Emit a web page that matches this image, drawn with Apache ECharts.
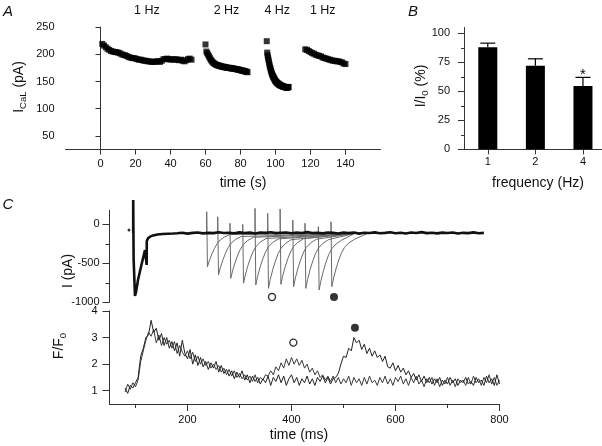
<!DOCTYPE html>
<html><head><meta charset="utf-8">
<script src="https://cdn.jsdelivr.net/npm/echarts@6/dist/echarts.min.js"></script>
<style>html,body{margin:0;padding:0;background:#fff}#c{width:602px;height:446px}</style>
</head><body><div id="c"></div>
<script>
// ---------- Panel A: I_CaL vs time (one point per stimulus) ----------
const segLabels = ['1 Hz', '2 Hz', '4 Hz', '1 Hz'];
const segStartS = [1, 60, 95, 117];
const segPeriodS = [1, 0.5, 0.25, 1];
const seg1Vals = [219,216,213,210,208,206,205,204,204,203, 202,200,199,198,197,195,194,193,193,192,
  191,190,190,189,188,188,187,187,186,186, 186,187,187,186,188,191,191,192,191,190,
  191,190,191,190,189,190,188,187,189,191, 192,190];
const seg2Vals = [218,205,202,199,196,193,190,188,186,184, 183,182,181,180,180,179,179,178,178,177,
  177,177,176,176,176,175,175,175,175,174, 174,174,174,173,173,173,172,172,172,171,
  171,170,170,170,169,169,168,168,167];
const seg3Vals = [224,203,198,194,190,186,182,178,175,172, 169,166,164,162,160,158,157,155,154,152,
  151,150,149,148,147,147,146,145,145,144, 144,143,143,142,142,142,141,141,141,140,
  140,140,140,139,139,139,139,139,140,139, 140];
const seg4Vals = [209,208,206,204,202,201,199,198,197,196,194,193,192,191,190,189,188,188,187,187,186,185,183,182];
const aXTicks = [0,20,40,60,80,100,120,140];
const aYTicks = [50,100,150,200,250];

// ---------- Panel B: I/I0 by frequency ----------
const freqLabels = ['1', '2', '4'];
const meanPct = [88, 72, 54.5];
const semPct = [3.5, 6, 7.5];
const sigMark = ['', '', '*'];
const bYTicks = [0,25,50,75,100];
const bYMinor = [12.5,37.5,62.5,87.5];

// ---------- Panel C top: current traces ----------
const firstSweep = [[95.6,-110],[95.6,312],[96.4,-450],[99,-919],[101,-870],[104.8,-714],[110.6,-544],
  [115,-420],[118.3,-330],[121.3,-330],[121.5,-520],[121.7,-215],[124,-180],[128,-158],[134,-142],
  [142,-130],[152,-124],[162,-120],[172,-118]];
const baseStartMs = 180, baseStepMs = 10;
const baselinePA = [-115,-108,-119,-110,-104,-116,-109,-113,-102,-111,
  -107,-114,-103,-112,-106,-118,-105,-110,-101,-113,
  -108,-104,-115,-106,-111,-100,-112,-107,-116,-105,
  -110,-117,-106,-113,-104,-119,-108,-111,-103,-115,
  -109,-102,-114,-107,-118,-105,-112,-100,-113,-108,
  -116,-106,-111,-104,-117,-109,-113,-103,-115,-110];
const strayDot = [[87.5,-73]];
const pulseTimes = [236.9,258.1,281.7,306.2,329.8,354.2,378.1,402.5,426.0,451.6,476.0];
const pulseTops = [161,97,13,0,205,141,196,55,13,-30,33];
const pulseMins = [-543,-650,-692,-756,-778,-821,-769,-800,-821,-842,-800];
const recoveryMs = [1.5,5,10,15,20,26,34,45];
const recoveryFrac = [1,0.86,0.7,0.57,0.46,0.37,0.3,0.24];
const cTopMarks = [[362.5,-932],[481.7,-932]];
const cTopLabels = [-1000,-500,0];
const cTopTicks = [-1000,-500,0];
const cTopMinor = [-750,-250];

// ---------- Panel C bottom: F/F0 ----------
const fStartMs = 80, fStepMs = 5;
const fTraceA = [0.95,1.25,1.05,1.3,1.15,1.4,2.1,2.5,2.9,3.2,
  3.05,3.3,2.8,3.1,2.7,3.0,2.75,2.9,2.6,2.85,
  2.4,2.7,2.45,2.3,2.5,2.2,2.45,2.1,2.3,2.0,
  2.2,1.95,2.1,1.85,2.0,1.8,1.95,1.7,1.85,1.6,
  1.8,1.55,1.75,1.5,1.65,1.45,1.6,1.4,1.55,1.35,
  1.6,1.3,1.5,1.4,1.6,1.55,1.75,1.6,1.9,1.75,
  2.05,1.85,2.2,1.95,2.25,2.0,2.2,1.95,2.15,1.85,
  2.0,1.7,1.85,1.6,1.75,1.5,1.6,1.4,1.55,1.35,
  1.55,1.3,1.5,1.25,1.45,1.3,1.55,1.2,1.5,1.3,
  1.45,1.2,1.5,1.25,1.55,1.3,1.4,1.2,1.5,1.3,
  1.55,1.25,1.45,1.2,1.5,1.35,1.55,1.25,1.45,1.2,
  1.5,1.3,1.55,1.25,1.4,1.15,1.45,1.3,1.5,1.2,
  1.45,1.15,1.4,1.25,1.5,1.2,1.4,1.15,1.45,1.3,
  1.4,1.2,1.5,1.25,1.55,1.3,1.45,1.2,1.5,1.3,
  1.6,1.25,1.5,1.2,1.4];
const fTraceB = [1.1,0.9,1.2,1.1,1.3,1.5,2.3,2.6,3.0,3.1,
  3.65,3.2,3.35,2.9,3.15,2.7,3.0,2.6,2.85,2.5,
  2.8,2.3,2.9,2.4,2.2,2.55,2.0,2.35,1.95,2.25,
  1.9,2.1,1.8,2.05,1.85,2.1,1.7,1.95,1.65,1.8,
  1.55,1.75,1.45,1.7,1.5,1.75,1.4,1.6,1.3,1.55,
  1.35,1.5,1.25,1.45,1.3,1.55,1.2,1.5,1.35,1.6,
  1.3,1.55,1.2,1.45,1.6,1.3,1.5,1.2,1.45,1.3,
  1.55,1.25,1.45,1.2,1.5,1.35,1.55,1.3,1.5,1.25,
  1.45,1.5,1.65,2.0,2.3,2.25,2.6,2.5,3.0,2.8,
  2.9,2.55,2.75,2.4,2.6,2.3,2.5,2.25,2.35,2.1,
  2.3,1.9,1.85,2.05,1.75,1.95,1.7,1.85,1.6,1.75,
  1.5,1.65,1.4,1.6,1.35,1.55,1.3,1.5,1.25,1.45,
  1.3,1.5,1.2,1.4,1.25,1.5,1.3,1.45,1.2,1.4,
  1.3,1.5,1.25,1.35,1.2,1.5,1.3,1.4,1.2,1.55,
  1.3,1.45,1.2,1.6,1.25];
const cBotMarks = [[403.5,2.81],[522,3.37]];
const cBotXTicks = [200,400,600,800];
const cBotXMinor = [100,300,500,700];
const cBotYTicks = [1,2,3,4];

// ---------- build ----------
const FONT = '"Liberation Sans", Arial, Helvetica, sans-serif';
const AX = '#333', TX = '#111';

const aPoints = [];
[seg1Vals, seg2Vals, seg3Vals, seg4Vals].forEach((vals, s) => {
  vals.forEach((v, i) => aPoints.push([segStartS[s] + i * segPeriodS[s], v]));
});
const barData = meanPct.map((m, i) => [i + 1, m]);
const errData = meanPct.map((m, i) => [i + 1, m, semPct[i], i]);
const mainSweep = firstSweep.concat(baselinePA.map((v, i) => [baseStartMs + i * baseStepMs, v]));
const pulseSeries = pulseTimes.map((t, i) => {
  const d = [[t, -110], [t, pulseTops[i]]];
  recoveryMs.forEach((dt, k) => d.push([t + dt, pulseMins[i] * recoveryFrac[k]]));
  d.push([Math.max(t + 70, 520), -118]);
  return {type:'line', xAxisIndex:2, yAxisIndex:3, data:d, symbol:'none', clip:false, z:2,
    lineStyle:{color:'#6a6a6a', width:1}, silent:true, animation:false};
});
const fA = fTraceA.map((v, i) => [fStartMs + i * fStepMs, v]);
const fB = fTraceB.map((v, i) => [fStartMs + i * fStepMs, v]);

const plain = v => String(v);
function lineAx(extra){ return Object.assign({show:true, lineStyle:{color:AX, width:1}}, extra||{}); }
function lbl(vals, margin, extra){ return Object.assign({show:true, customValues:vals, margin:margin, color:TX, fontSize:11, fontFamily:FONT, formatter:plain}, extra||{}); }
function tk(vals, len){ return {show:true, customValues:vals, length:len, lineStyle:{color:AX, width:1}}; }
const noSplit = {show:false};

const chart = echarts.init(document.getElementById('c'), null, {renderer:'canvas', width:602, height:446});
chart.setOption({
  animation:false,
  backgroundColor:'#fff',
  grid:[
    {left:65.5, top:27, width:315, height:122.6},
    {left:464, top:27.5, width:138, height:121.8},
    {left:109.5, top:210.3, width:390, height:92},
    {left:109.5, top:311, width:390, height:93}
  ],
  xAxis:[
    {gridIndex:0, type:'value', min:-20, max:160, axisLine:lineAx(), axisTick:tk(aXTicks,5), axisLabel:lbl(aXTicks,9), splitLine:noSplit},
    {gridIndex:1, type:'value', min:0.5, max:3.4, axisLine:lineAx(), axisTick:tk([1,2,3],5), axisLabel:lbl([1,2,3],7,{formatter:v=>freqLabels[Math.round(v)-1]||''}), splitLine:noSplit},
    {gridIndex:2, type:'value', min:50, max:800, show:false, splitLine:noSplit},
    {gridIndex:3, type:'value', min:50, max:800, axisLine:lineAx(), axisTick:tk(cBotXTicks,7), axisLabel:lbl(cBotXTicks,10), splitLine:noSplit},
    {gridIndex:3, type:'value', min:50, max:800, position:'bottom', axisLine:{show:false}, axisTick:tk(cBotXMinor,4), axisLabel:{show:false}, splitLine:noSplit}
  ],
  yAxis:[
    {gridIndex:0, type:'value', min:25, max:250, axisLine:lineAx(), axisTick:tk(aYTicks,5), axisLabel:lbl(aYTicks,11), splitLine:noSplit},
    {gridIndex:1, type:'value', min:0, max:105, axisLine:lineAx(), axisTick:tk(bYTicks,6), axisLabel:lbl(bYTicks,14), splitLine:noSplit},
    {gridIndex:1, type:'value', min:0, max:105, position:'left', axisLine:{show:false}, axisTick:tk(bYMinor,3), axisLabel:{show:false}, splitLine:noSplit},
    {gridIndex:2, type:'value', min:-1000, max:180, axisLine:lineAx(), axisTick:tk(cTopTicks,7), axisLabel:lbl(cTopLabels,10), splitLine:noSplit},
    {gridIndex:2, type:'value', min:-1000, max:180, position:'left', axisLine:{show:false}, axisTick:tk(cTopMinor,4), axisLabel:{show:false}, splitLine:noSplit},
    {gridIndex:3, type:'value', min:0.5, max:4, axisLine:lineAx(), axisTick:tk(cBotYTicks,7), axisLabel:lbl(cBotYTicks,12), splitLine:noSplit}
  ],
  series:[
    {type:'scatter', xAxisIndex:0, yAxisIndex:0, data:aPoints, symbol:'rect', symbolSize:6, itemStyle:{color:'#000'}, silent:true},
    {type:'bar', xAxisIndex:1, yAxisIndex:1, data:barData, barWidth:19, itemStyle:{color:'#000'}, silent:true},
    {type:'custom', xAxisIndex:1, yAxisIndex:1, data:errData, silent:true, z:3,
      renderItem:function(params, api){
        const x = api.value(0), m = api.value(1), s = api.value(2), idx = api.value(3);
        const p0 = api.coord([x, m]), p1 = api.coord([x, m + s]);
        const children = [
          {type:'line', shape:{x1:p0[0], y1:p0[1], x2:p1[0], y2:p1[1]}, style:{stroke:'#000', lineWidth:1.2}},
          {type:'line', shape:{x1:p1[0]-7.5, y1:p1[1], x2:p1[0]+7.5, y2:p1[1]}, style:{stroke:'#000', lineWidth:1.2}}
        ];
        if (sigMark[idx]) children.push({type:'text', style:{text:sigMark[idx], x:p1[0], y:p1[1]-3, align:'center', verticalAlign:'middle', fontSize:15, fontFamily:FONT, fill:'#000'}});
        return {type:'group', children:children};
      }},
    ...pulseSeries,
    {type:'line', xAxisIndex:2, yAxisIndex:3, data:mainSweep, symbol:'none', clip:false, z:4,
      lineStyle:{color:'#111', width:2.6}, silent:true},
    {type:'scatter', xAxisIndex:2, yAxisIndex:3, data:strayDot, symbolSize:3, itemStyle:{color:'#000'}, silent:true},
    {type:'scatter', xAxisIndex:2, yAxisIndex:3, data:[cTopMarks[0]], symbolSize:7, clip:false,
      itemStyle:{color:'#fff', borderColor:'#000', borderWidth:1.4}, silent:true},
    {type:'scatter', xAxisIndex:2, yAxisIndex:3, data:[cTopMarks[1]], symbolSize:8, clip:false,
      itemStyle:{color:'#000'}, silent:true},
    {type:'line', xAxisIndex:3, yAxisIndex:5, data:fA, symbol:'none', lineStyle:{color:'#3a3a3a', width:1}, silent:true},
    {type:'line', xAxisIndex:3, yAxisIndex:5, data:fB, symbol:'none', lineStyle:{color:'#222', width:1}, silent:true},
    {type:'scatter', xAxisIndex:3, yAxisIndex:5, data:[cBotMarks[0]], symbolSize:7,
      itemStyle:{color:'#fff', borderColor:'#000', borderWidth:1.4}, silent:true},
    {type:'scatter', xAxisIndex:3, yAxisIndex:5, data:[cBotMarks[1]], symbolSize:8,
      itemStyle:{color:'#000'}, silent:true}
  ]
});

// ---------- text annotations ----------
const segCenters = [26.5, 72, 101, 127];
const g = [];
function txt(x, y, text, size, extra){
  return Object.assign({type:'text', x:x, y:y, silent:true,
    style:Object.assign({text:text, align:'center', verticalAlign:'middle', fontSize:size, fontFamily:FONT, fill:'#111'}, (extra&&extra.style)||{})},
    extra&&extra.rotation!==undefined?{rotation:extra.rotation}:{});
}
const sub = {a:{fontSize:14, lineHeight:18, verticalAlign:'middle', fontFamily:FONT, fill:'#111'},
             s:{fontSize:9.5, lineHeight:9, verticalAlign:'bottom', fontFamily:FONT, fill:'#111'}};
segLabels.forEach((l, i) => {
  const px = chart.convertToPixel({xAxisIndex:0}, segCenters[i]);
  g.push(txt(px, 11, l, 12.5));
});
g.push(txt(8, 12, 'A', 15, {style:{fontStyle:'italic'}}));
g.push(txt(413, 12, 'B', 15, {style:{fontStyle:'italic'}}));
g.push(txt(8, 205, 'C', 15, {style:{fontStyle:'italic'}}));
g.push(txt(243, 183, 'time (s)', 14));
g.push(txt(538, 183, 'frequency (Hz)', 14));
g.push(txt(299, 435, 'time (ms)', 14));
g.push(txt(68, 271, 'I (pA)', 14, {rotation:Math.PI/2}));
g.push(txt(19, 87, '{a|I}{s|CaL}{a| (pA)}', 14, {rotation:Math.PI/2, style:{rich:sub}}));
g.push(txt(421.5, 86, '{a|I/I}{s|0}{a| (%)}', 14, {rotation:Math.PI/2, style:{rich:sub}}));
g.push(txt(59, 346, '{a|F/F}{s|0}', 14, {rotation:Math.PI/2, style:{rich:sub}}));
chart.setOption({graphic:g});
</script></body></html>
